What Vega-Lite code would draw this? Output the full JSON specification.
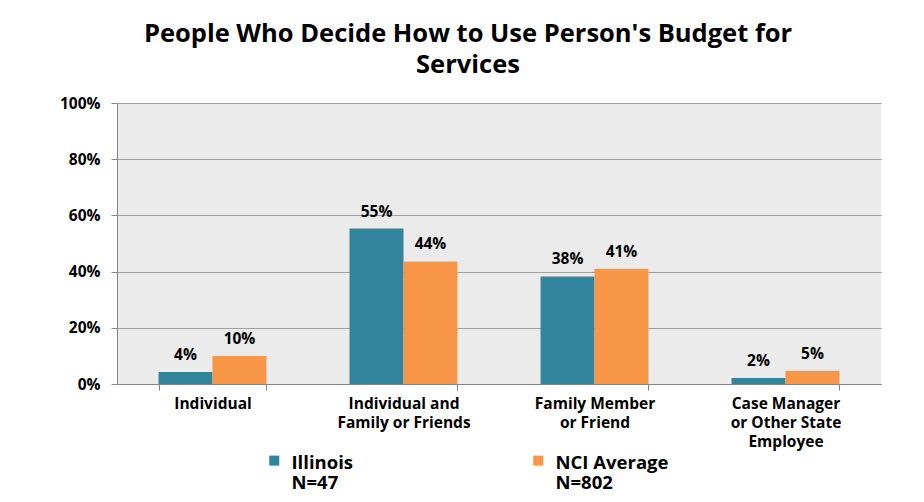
{
  "$schema": "https://vega.github.io/schema/vega-lite/v6.json",
  "width": 764,
  "height": 281,
  "autosize": "none",
  "padding": {"left": 117, "top": 103, "right": 43, "bottom": 118},
  "background": "white",
  "title": {
    "text": ["People Who Decide How to Use Person's Budget for", "Services"],
    "font": "Open Sans",
    "fontSize": 25.5,
    "fontWeight": "bold",
    "color": "#000000",
    "lineHeight": 31,
    "anchor": "middle",
    "frame": "group",
    "dx": -31,
    "offset": 18
  },
  "data": {
    "values": [
      {"category": "Individual", "series": "Illinois", "value": 0.043},
      {"category": "Individual", "series": "NCI Average", "value": 0.10},
      {"category": "Individual and Family or Friends", "series": "Illinois", "value": 0.553},
      {"category": "Individual and Family or Friends", "series": "NCI Average", "value": 0.436},
      {"category": "Family Member or Friend", "series": "Illinois", "value": 0.383},
      {"category": "Family Member or Friend", "series": "NCI Average", "value": 0.41},
      {"category": "Case Manager or Other State Employee", "series": "Illinois", "value": 0.021},
      {"category": "Case Manager or Other State Employee", "series": "NCI Average", "value": 0.047}
    ]
  },
  "config": {
    "view": {"fill": "#EBEBEB", "stroke": null},
    "font": "Open Sans"
  },
  "encoding": {
    "x": {
      "field": "category",
      "type": "nominal",
      "sort": null,
      "scale": {"paddingInner": 0.435, "paddingOuter": 0.2175},
      "axis": {
        "title": null,
        "labelAngle": 0,
        "labelFont": "Open Sans",
        "labelFontSize": 15.5,
        "labelFontWeight": "bold",
        "labelColor": "#000000",
        "labelPadding": 6,
        "labelLineHeight": 19,
        "labelBaseline": "top",
        "labelLimit": 300,
        "domainColor": "#868686",
        "tickColor": "#868686",
        "tickBand": "extent",
        "tickSize": 6,
        "labelExpr": "datum.value == 'Individual and Family or Friends' ? ['Individual and', 'Family or Friends'] : datum.value == 'Family Member or Friend' ? ['Family Member', 'or Friend'] : datum.value == 'Case Manager or Other State Employee' ? ['Case Manager', 'or Other State', 'Employee'] : datum.value"
      }
    },
    "xOffset": {"field": "series", "type": "nominal", "scale": {"paddingInner": 0, "paddingOuter": 0}},
    "y": {
      "field": "value",
      "type": "quantitative",
      "scale": {"domain": [0, 1]},
      "axis": {
        "title": null,
        "format": ".0%",
        "values": [0, 0.2, 0.4, 0.6, 0.8, 1],
        "labelFont": "Open Sans",
        "labelFontSize": 15.5,
        "labelFontWeight": "bold",
        "labelColor": "#000000",
        "labelPadding": 11,
        "gridColor": "#A0A0A0",
        "gridWidth": 1,
        "domainColor": "#868686",
        "tickColor": "#868686",
        "tickSize": 6
      }
    }
  },
  "layer": [
    {
      "mark": {"type": "bar", "strokeWidth": 1},
      "encoding": {
        "color": {
          "field": "series",
          "type": "nominal",
          "scale": {"domain": ["Illinois", "NCI Average"], "range": ["#31849B", "#F79646"]},
          "legend": {
            "title": null,
            "orient": "none",
            "direction": "horizontal",
            "legendX": 148,
            "legendY": 341,
            "symbolType": "M-1,0.4H1V2.4H-1Z",
            "symbolSize": 100,
            "symbolStrokeWidth": 0,
            "labelFont": "Open Sans",
            "labelFontSize": 18.5,
            "labelFontWeight": "bold",
            "labelColor": "#000000",
            "labelBaseline": "top",
            "labelLineHeight": 20,
            "labelOffset": 8,
            "columnPadding": 175,
            "labelLimit": 300,
            "labelExpr": "datum.label == 'Illinois' ? ['Illinois', '\u2002N=47'] : ['NCI Average', '\u2002N=802']"
          }
        }
      }
    },
    {
      "mark": {"type": "text", "dy": -17, "fontSize": 15.5, "fontWeight": "bold", "font": "Open Sans", "color": "#000000"},
      "encoding": {
        "text": {"field": "value", "type": "quantitative", "format": ".0%"}
      }
    }
  ]
}
